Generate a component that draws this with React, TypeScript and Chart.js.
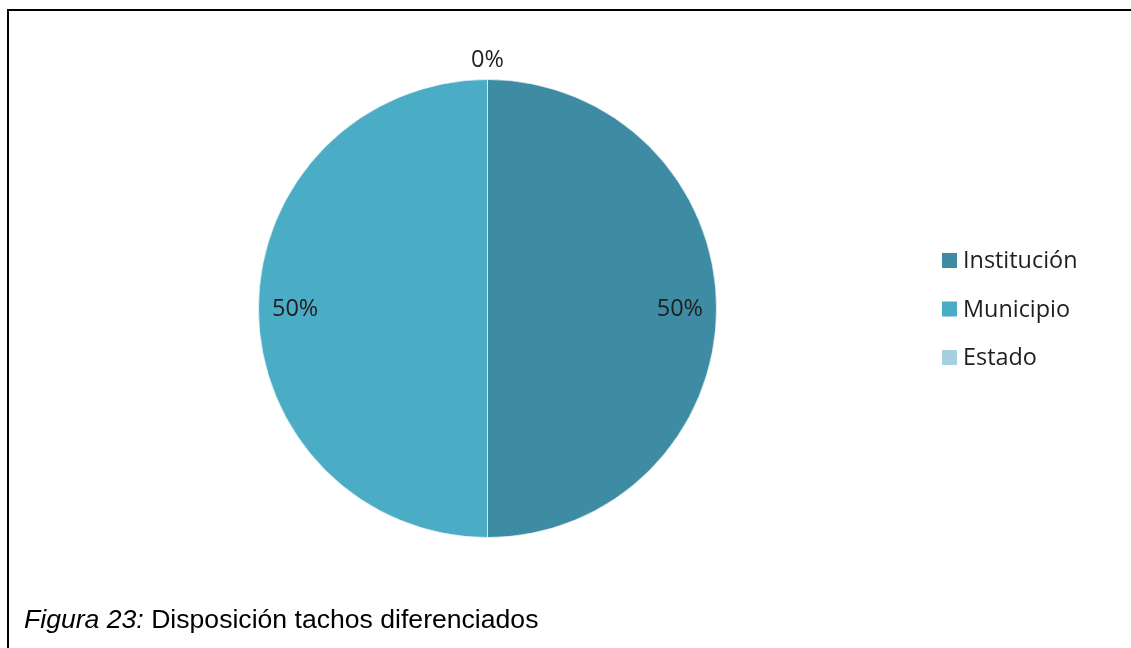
import React, { useEffect, useRef } from 'react';
import { Chart, registerables } from 'chart.js';

Chart.register(...registerables);

const categories = ['Institución', 'Municipio', 'Estado'];
const values = [50, 50, 0];
const colors = ['#3d8ca3', '#4bacc6', '#a6d0df'];
const captionLabel = 'Figura 23:';
const captionText = ' Disposición tachos diferenciados';

const labelFont = '"Open Sans", sans-serif';

const pieLabelsPlugin = {
  id: 'pieLabels',
  afterDatasetsDraw(chart: any) {
    const ctx = chart.ctx;
    const meta = chart.getDatasetMeta(0);
    const data = chart.data.datasets[0].data as number[];
    const total = data.reduce((a, b) => a + b, 0);
    ctx.save();
    ctx.font = `23.5px ${labelFont}`;
    ctx.fillStyle = '#1e1e1e';
    ctx.textAlign = 'center';
    ctx.textBaseline = 'middle';
    meta.data.forEach((arc: any, i: number) => {
      const p = arc.getProps(['x', 'y', 'startAngle', 'endAngle', 'outerRadius'], true);
      const mid = (p.startAngle + p.endAngle) / 2;
      const v = data[i];
      const rr = v > 0 ? p.outerRadius * 0.84 : p.outerRadius + 20.5;
      const txt = Math.round((v / total) * 100) + '%';
      ctx.fillText(txt, p.x + Math.cos(mid) * rr, p.y + Math.sin(mid) * rr + 1);
    });
    ctx.restore();
  },
};

const legendPlugin = {
  id: 'customLegend',
  afterDraw(chart: any) {
    const ctx = chart.ctx;
    const bg = chart.data.datasets[0].backgroundColor as string[];
    const x0 = 942;
    const y0 = 260.5;
    const step = 48.5;
    ctx.save();
    ctx.font = `23.4px ${labelFont}`;
    ctx.textAlign = 'left';
    ctx.textBaseline = 'middle';
    (chart.data.labels as string[]).forEach((lab, i) => {
      const cy = y0 + i * step;
      ctx.fillStyle = bg[i];
      ctx.fillRect(x0, cy - 7.5, 15, 15);
      ctx.fillStyle = '#1e1e1e';
      ctx.fillText(lab, x0 + 21, cy + 1);
    });
    ctx.restore();
  },
};

function PieChart() {
  const ref = useRef<HTMLCanvasElement | null>(null);
  useEffect(() => {
    if (!ref.current) return;
    const chart = new Chart(ref.current, {
      type: 'pie',
      data: {
        labels: categories,
        datasets: [
          {
            data: values,
            backgroundColor: colors,
            borderColor: 'rgba(255,255,255,0.6)',
            borderWidth: 1,
          },
        ],
      },
      options: {
        responsive: false,
        animation: false,
        devicePixelRatio: 1,
        layout: { padding: { left: 258, top: 79, right: 414, bottom: 110 } },
        plugins: {
          legend: { display: false },
          tooltip: { enabled: false },
          title: { display: false },
        },
      },
      plugins: [pieLabelsPlugin, legendPlugin],
    });
    return () => chart.destroy();
  }, []);
  return (
    <canvas
      ref={ref}
      width={1131}
      height={648}
      style={{ position: 'absolute', left: 0, top: 0, width: 1131, height: 648 }}
    />
  );
}

export default function App() {
  return (
    <div
      style={{
        position: 'fixed',
        left: 0,
        top: 0,
        width: 1131,
        height: 648,
        background: '#fff',
        overflow: 'hidden',
      }}
    >
      <div
        style={{
          position: 'absolute',
          left: 7,
          top: 9,
          width: 1131,
          height: 700,
          borderTop: '2px solid #000',
          borderLeft: '2px solid #000',
        }}
      />
      <PieChart />
      <div
        style={{
          position: 'absolute',
          left: 24,
          top: 605.5,
          fontFamily: '"Liberation Sans", Arial, sans-serif',
          fontSize: 26.6,
          lineHeight: '26.6px',
          color: '#000',
          whiteSpace: 'nowrap',
        }}
      >
        <i>{captionLabel}</i>
        {captionText}
      </div>
    </div>
  );
}
